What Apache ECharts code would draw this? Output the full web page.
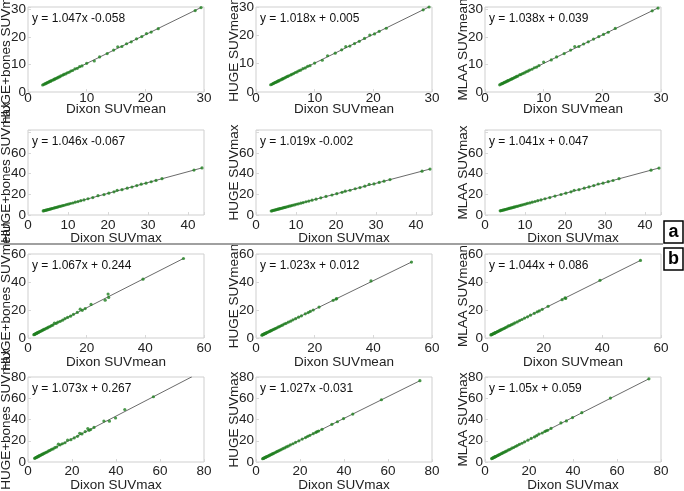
<!DOCTYPE html>
<html><head><meta charset="utf-8">
<script src="https://cdn.jsdelivr.net/npm/echarts@6/dist/echarts.min.js"></script>
<style>html,body{margin:0;padding:0;background:#fff}#c{width:684px;height:491px}</style>
</head><body><div id="c"></div>
<script>
// ---- Data ----
// Part a, SUVmean: x = Dixon SUVmean
var xMeanA = [2.5,2.7,2.9,3.0,3.2,3.3,3.5,3.6,3.8,3.9,4.1,4.3,4.5,4.6,4.8,5.0,5.2,5.4,5.6,5.9,6.1,6.4,6.7,7.0,7.3,7.6,8.0,8.4,8.8,9.2,10.0,11.3,12.2,13.5,14.6,15.3,16.0,16.8,17.6,18.5,19.4,20.2,21.0,22.2,28.5,29.5];
var yMeanA_HB = [2.55,2.80,2.95,3.10,3.30,3.38,3.65,3.70,3.95,4.00,4.28,4.40,4.70,4.72,5.00,5.15,5.45,5.55,5.85,6.10,6.40,6.60,7.00,7.20,7.65,7.85,8.40,8.65,9.25,9.50,10.45,11.30,12.80,14.00,15.30,16.50,16.60,17.60,18.30,19.40,20.20,21.30,21.85,23.10,29.70,30.80];
var yMeanA_H = [2.56,2.72,2.98,3.05,3.28,3.35,3.60,3.66,3.90,3.96,4.20,4.36,4.62,4.68,4.92,5.08,5.34,5.48,5.74,6.00,6.25,6.50,6.88,7.10,7.50,7.70,8.25,8.50,9.05,9.30,10.20,11.20,12.80,13.70,14.90,16.00,16.20,17.10,17.90,18.90,20.10,20.50,21.40,22.50,29.00,30.00];
var yMeanA_M = [2.62,2.86,3.02,3.17,3.34,3.48,3.65,3.80,3.96,4.12,4.27,4.53,4.68,4.84,4.98,5.26,5.40,5.70,5.82,6.30,6.35,6.72,6.95,7.35,7.58,8.00,8.30,8.85,9.10,9.65,10.90,11.70,12.80,14.00,15.30,16.60,16.60,17.50,18.30,19.30,20.20,21.00,21.80,23.20,29.60,30.60];
// Part a, SUVmax: x = Dixon SUVmax
var xMaxA = [3.8,4.0,4.3,4.5,4.8,5.0,5.3,5.5,5.8,6.0,6.3,6.6,6.9,7.2,7.5,7.9,8.3,8.7,9.1,9.6,10.1,10.6,11.2,11.8,12.5,13.2,14.0,15.0,16.2,17.5,19.0,20.2,21.5,22.3,23.5,24.8,26.0,27.2,28.3,29.5,30.8,32.0,33.5,41.5,43.5];
var yMaxA_HB = [3.90,4.15,4.40,4.68,4.92,5.20,5.45,5.72,5.98,6.25,6.50,6.88,7.12,7.50,7.75,8.25,8.58,9.10,9.40,10.05,10.45,11.10,11.60,12.35,12.95,13.80,14.55,15.70,16.80,18.60,19.70,21.10,22.40,23.80,24.40,25.90,27.00,28.40,29.70,30.70,32.10,33.40,35.00,43.30,45.40];
var yMaxA_H = [3.88,4.05,4.40,4.56,4.92,5.08,5.42,5.58,5.94,6.10,6.45,6.70,7.06,7.30,7.68,8.02,8.50,8.84,9.32,9.75,10.35,10.76,11.45,11.98,12.80,13.40,14.30,15.25,16.55,17.90,19.30,20.60,21.85,23.00,23.90,25.30,26.45,27.80,29.60,30.00,31.40,32.60,34.20,42.30,44.30];
var yMaxA_M = [3.98,4.24,4.50,4.76,5.02,5.28,5.54,5.80,6.05,6.32,6.58,6.95,7.20,7.58,7.82,8.30,8.65,9.15,9.48,10.10,10.52,11.12,11.65,12.40,13.00,13.85,14.58,15.70,16.85,18.30,19.80,21.10,22.40,23.90,24.45,25.90,27.05,28.40,29.90,30.70,32.15,33.30,35.00,43.20,45.30];
// Part b, SUVmean
var xMeanB = [2.0,2.2,2.4,2.6,2.8,3.0,3.2,3.4,3.6,3.9,4.2,4.5,4.8,5.1,5.4,5.8,6.2,6.6,7.0,7.5,8.0,8.5,9.0,9.6,10.2,11.0,11.8,12.6,13.5,14.5,15.5,16.8,17.8,18.5,19.5,21.5,26.3,27.3,27.5,39.2,53.0];
var yMeanB_HB = [2.40,2.55,2.85,3.00,3.28,3.42,3.70,3.85,4.15,4.38,4.80,5.00,5.45,5.65,6.10,6.40,6.95,7.20,7.80,8.15,8.90,9.25,10.60,10.40,11.30,11.90,12.70,13.80,14.70,15.60,16.90,18.30,20.60,19.80,21.00,24.00,27.00,31.40,29.00,42.00,56.80];
var yMeanB_H = [2.05,2.28,2.45,2.70,2.86,3.10,3.27,3.52,3.68,4.04,4.28,4.66,4.90,5.27,5.50,6.00,6.32,6.80,7.14,7.72,8.15,8.76,9.18,10.00,10.40,11.30,12.02,12.95,13.78,14.90,15.82,17.25,18.15,19.00,20.00,22.10,26.90,27.80,28.20,40.80,54.20];
var yMeanB_M = [2.18,2.36,2.62,2.78,3.04,3.20,3.46,3.62,3.88,4.12,4.52,4.75,5.14,5.38,5.78,6.10,6.62,6.94,7.45,7.88,8.60,8.90,9.55,10.05,10.80,11.50,12.45,13.20,14.25,15.15,16.30,17.60,18.70,19.35,20.50,22.60,27.40,28.70,28.30,41.20,55.40];
// Part b, SUVmax
var xMaxB = [3.0,3.3,3.6,3.9,4.2,4.5,4.8,5.1,5.5,5.9,6.3,6.7,7.2,7.7,8.2,8.8,9.4,10.0,10.7,11.4,12.2,13.0,13.8,14.6,15.6,16.8,18.0,19.5,21.0,22.5,23.5,24.5,26.0,27.2,27.8,28.5,30.0,34.5,37.0,39.8,44.0,57.0,74.5];
var yMaxB_HB = [3.50,3.78,4.18,4.42,4.82,5.05,5.48,5.70,6.25,6.55,7.10,7.40,8.08,8.45,9.15,9.60,10.45,10.90,11.90,12.30,13.50,14.10,16.80,16.20,17.20,18.10,20.50,21.00,22.70,24.20,27.00,26.40,28.60,31.50,29.80,30.60,32.50,38.60,38.40,41.40,49.40,61.40,80.10];
var yMaxB_H = [3.06,3.34,3.70,3.95,4.32,4.56,4.94,5.18,5.66,6.00,6.48,6.82,7.40,7.84,8.44,8.96,9.68,10.20,11.02,11.62,12.56,13.28,14.20,14.92,16.05,17.18,18.50,19.95,21.60,23.00,24.15,25.10,26.70,27.85,28.60,29.20,30.80,35.50,37.90,40.90,45.10,58.60,76.50];
var yMaxB_M = [3.22,3.50,3.88,4.12,4.52,4.75,5.14,5.38,5.88,6.20,6.72,7.05,7.68,8.10,8.75,9.25,10.00,10.50,11.36,11.95,13.00,13.65,14.60,15.35,16.50,17.65,19.00,20.50,22.15,23.60,24.80,26.30,27.30,28.70,29.40,29.90,31.60,36.80,38.70,41.80,46.40,60.20,78.30];

// Regression coefficients (as printed) per panel, row-major
var slopes     = [1.047, 1.018, 1.038, 1.046, 1.019, 1.041, 1.067, 1.023, 1.044, 1.073, 1.027, 1.05];
var intercepts = [-0.058, 0.005, 0.039, -0.067, -0.002, 0.047, 0.244, 0.012, 0.086, 0.267, -0.031, 0.059];
var eqLabels = ["y = 1.047x -0.058","y = 1.018x + 0.005","y = 1.038x + 0.039",
                "y = 1.046x -0.067","y = 1.019x -0.002","y = 1.041x + 0.047",
                "y = 1.067x + 0.244","y = 1.023x + 0.012","y = 1.044x + 0.086",
                "y = 1.073x + 0.267","y = 1.027x -0.031","y = 1.05x + 0.059"];
var yNames = ["HUGE+bones SUVmean","HUGE SUVmean","MLAA SUVmean",
              "HUGE+bones SUVmax","HUGE SUVmax","MLAA SUVmax",
              "HUGE+bones SUVmean","HUGE SUVmean","MLAA SUVmean",
              "HUGE+bones SUVmax","HUGE SUVmax","MLAA SUVmax"];
var xNames = ["Dixon SUVmean","Dixon SUVmax","Dixon SUVmean","Dixon SUVmax"];
var xMaxRow = [30, 44, 60, 80];
var xIntRow = [10, 10, 20, 20];
var yIntRow = [10, 20, 20, 20];
var yMaxPanel = [31, 30, 31, 82, 82, 82, 60, 60, 60, 80, 80, 80];
var yLabelMaxShown = [30, 30, 30, 60, 60, 60, 60, 60, 60, 80, 80, 80];
var panelX = [xMeanA, xMeanA, xMeanA, xMaxA, xMaxA, xMaxA, xMeanB, xMeanB, xMeanB, xMaxB, xMaxB, xMaxB];
var panelY = [yMeanA_HB, yMeanA_H, yMeanA_M, yMaxA_HB, yMaxA_H, yMaxA_M, yMeanB_HB, yMeanB_H, yMeanB_M, yMaxB_HB, yMaxB_H, yMaxB_M];

// ---- Layout ----
var colLeft = [28, 256, 485], colW = 176;
var rowTop = [7, 130, 254, 377], rowH = [85, 85, 84, 85];
var xLabelMargin = [-1, 3, 3, 2];
var xNameGap = [10, 16, 17, 16];
var FONT = '"Liberation Sans", Arial, sans-serif';

function makeFmt(step, lim) {
  return function (v) { return (v > lim + 1e-9 || Math.abs(v / step - Math.round(v / step)) > 1e-6) ? '' : String(v); };
}

var grids = [], xAxes = [], yAxes = [], series = [], graphics = [];
for (var i = 0; i < 12; i++) {
  var r = Math.floor(i / 3), c = i % 3;
  grids.push({left: colLeft[c], top: rowTop[r], width: colW, height: rowH[r],
              outerBoundsMode: 'none', containLabel: false,
              show: true, borderColor: '#cfcfcf', borderWidth: 1, backgroundColor: '#fff'});
  xAxes.push({gridIndex: i, type: 'value', min: 0, max: xMaxRow[r], interval: xIntRow[r],
    name: xNames[r], nameLocation: 'middle', nameGap: xNameGap[r], nameMoveOverlap: false,
    nameTextStyle: {fontFamily: FONT, fontSize: 13.5, color: '#222'},
    axisLine: {show: false}, splitLine: {show: false},
    axisTick: {show: true, inside: true, length: 3, lineStyle: {color: '#d8d8d8'}},
    axisLabel: {margin: xLabelMargin[r], fontFamily: FONT, fontSize: 13.5, color: '#222',
      hideOverlap: false, formatter: makeFmt(xIntRow[r], 1e9)}});
  yAxes.push({gridIndex: i, type: 'value', min: 0, max: yMaxPanel[i], interval: yIntRow[r],
    name: yNames[i], nameLocation: 'middle', nameGap: 15, nameMoveOverlap: false,
    nameTextStyle: {fontFamily: FONT, fontSize: 13.5, color: '#222'},
    axisLine: {show: false}, splitLine: {show: false},
    axisTick: {show: true, inside: true, length: 3, lineStyle: {color: '#d8d8d8'}},
    axisLabel: {margin: 2, fontFamily: FONT, fontSize: 13.5, color: '#222', hideOverlap: false,
      formatter: makeFmt(yIntRow[r], yLabelMaxShown[i])}});
  var xs = panelX[i], ys = panelY[i];
  var pts = xs.map(function (x, k) { return [x, ys[k]]; });
  var xmin = Math.min.apply(null, xs), xmax = Math.max.apply(null, xs);
  series.push({type: 'line', xAxisIndex: i, yAxisIndex: i, symbol: 'none', silent: true,
    data: [[xmin, slopes[i] * xmin + intercepts[i]], [xmax, slopes[i] * xmax + intercepts[i]]],
    lineStyle: {color: '#444', width: 0.8}, z: 2});
  series.push({type: 'scatter', xAxisIndex: i, yAxisIndex: i, symbol: 'circle', symbolSize: 3.2,
    data: pts, itemStyle: {color: '#1f7f1f'}, z: 3});
  graphics.push({type: 'text', x: colLeft[c] + 4, y: rowTop[r] + 12,
    style: {text: eqLabels[i], fontFamily: FONT, fontSize: 12, fill: '#111', verticalAlign: 'middle'}, z: 10});
}
// separator and part markers
graphics.push({type: 'line', shape: {x1: 0, y1: 244, x2: 663, y2: 244}, style: {stroke: '#a0a0a0', lineWidth: 2}, z: 10});
graphics.push({type: 'rect', shape: {x: 664, y: 221, width: 19, height: 22}, style: {fill: '#fff', stroke: '#000', lineWidth: 1.5}, z: 10});
graphics.push({type: 'text', x: 673.5, y: 232, style: {text: 'a', fontFamily: FONT, fontSize: 18, fontWeight: 'bold', fill: '#000', align: 'center', verticalAlign: 'middle'}, z: 11});
graphics.push({type: 'rect', shape: {x: 664, y: 248, width: 19, height: 22}, style: {fill: '#fff', stroke: '#000', lineWidth: 1.5}, z: 10});
graphics.push({type: 'text', x: 673.5, y: 259, style: {text: 'b', fontFamily: FONT, fontSize: 18, fontWeight: 'bold', fill: '#000', align: 'center', verticalAlign: 'middle'}, z: 11});

var chart = echarts.init(document.getElementById('c'), null, {renderer: 'canvas'});
chart.setOption({animation: false, backgroundColor: '#fff', grid: grids, xAxis: xAxes, yAxis: yAxes, series: series, graphic: graphics});
</script></body></html>
